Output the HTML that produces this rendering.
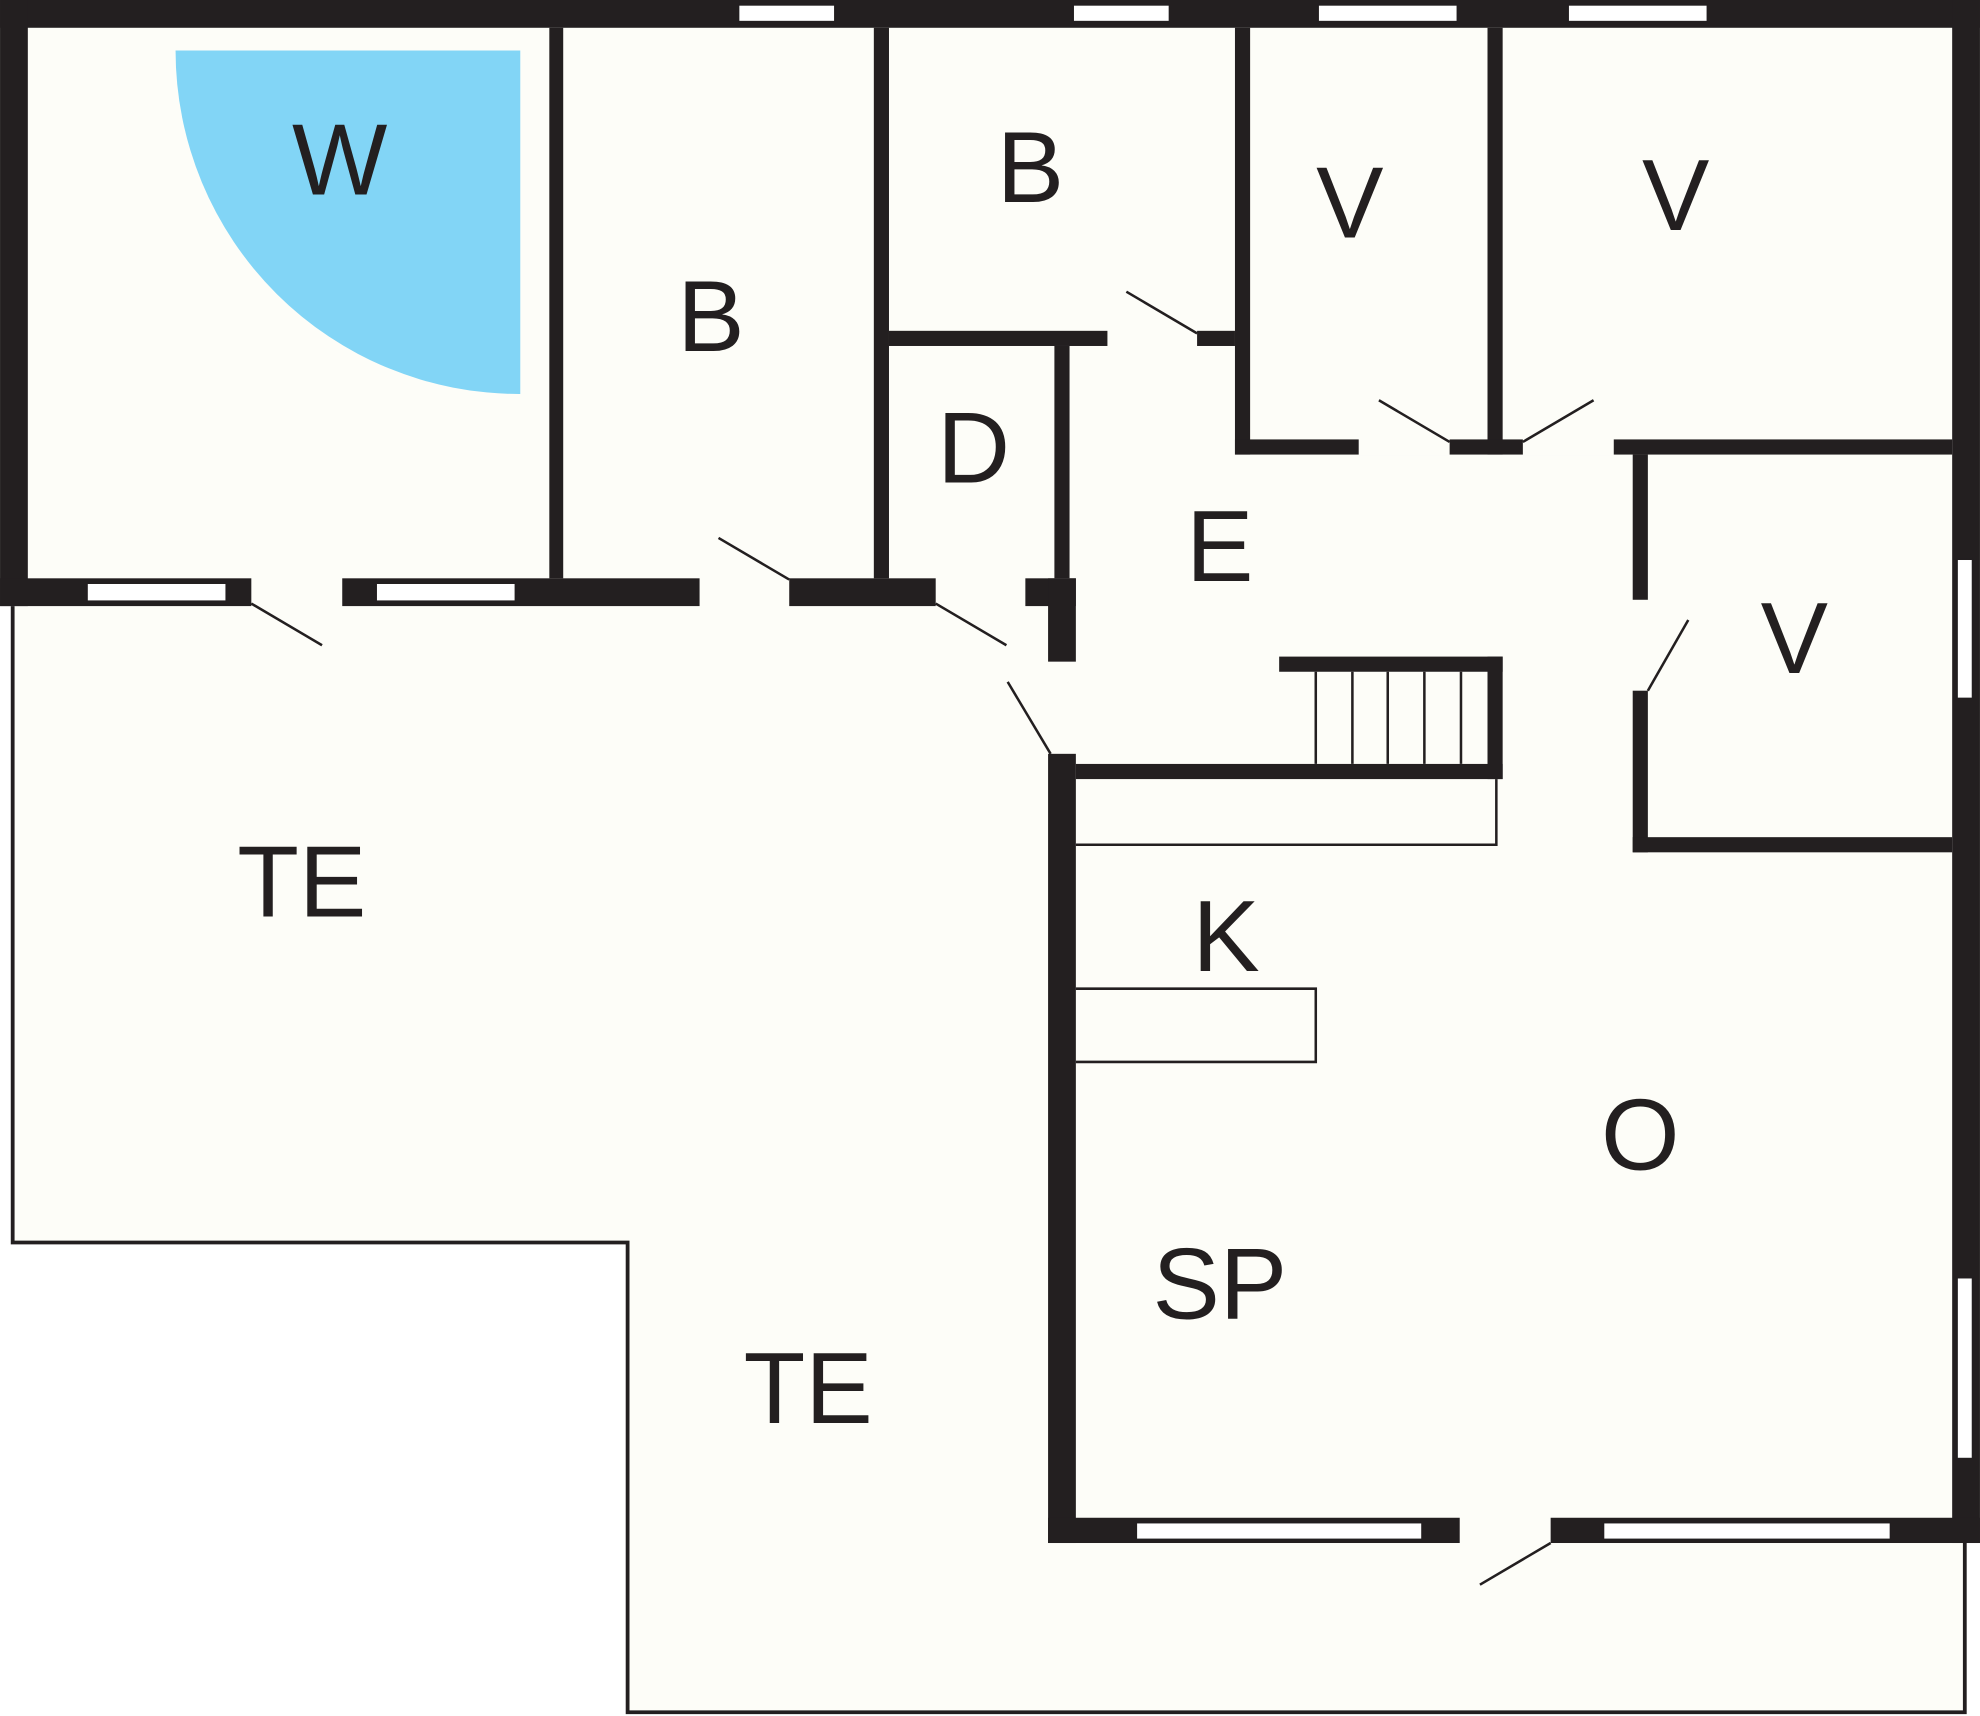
<!DOCTYPE html>
<html><head><meta charset="utf-8"><style>html,body{margin:0;padding:0;background:#fff}svg{display:block}</style></head>
<body>
<svg width="1980" height="1716" viewBox="0 0 1568 1359" xmlns="http://www.w3.org/2000/svg">
<g fill="#fdfdf8">
<rect x="0" y="0" width="1568" height="480"/>
<rect x="830" y="460" width="738" height="762"/>
<polygon points="10,478 10,984 497,984 497,1356 1556,1356 1556,1220 830,1220 830,478"/>
</g>
<polyline points="10,480 10,984 497,984 497,1356 1556,1356 1556,1222" fill="none" stroke="#231f20" stroke-width="3"/>
<path d="M412,40 L139,40 A272,272 0 0 0 412,312 Z" fill="#82d5f6"/>
<g fill="#231f20">
<rect x="0" y="0" width="1568" height="22"/>
<rect x="0" y="0" width="22" height="480"/>
<rect x="1546" y="0" width="22" height="1222"/>
<rect x="0" y="458" width="852" height="22"/>
<rect x="435" y="22" width="11" height="436"/>
<rect x="692" y="22" width="12" height="436"/>
<rect x="704" y="262" width="274" height="12"/>
<rect x="978" y="22" width="12" height="338"/>
<rect x="1178" y="22" width="12" height="338"/>
<rect x="978" y="348" width="568" height="12"/>
<rect x="835" y="274" width="12" height="184"/>
<rect x="830" y="458" width="22" height="764"/>
<rect x="852" y="605" width="338" height="12"/>
<rect x="1013" y="520" width="177" height="12"/>
<rect x="1178" y="520" width="12" height="97"/>
<rect x="1293" y="360" width="12" height="315"/>
<rect x="1293" y="663" width="253" height="12"/>
<rect x="830" y="1202" width="738" height="20"/>
</g>
<g fill="#fff" stroke="#231f20" stroke-width="1">
<rect x="585" y="4" width="76" height="13"/>
<rect x="850" y="4" width="76" height="13"/>
<rect x="1044" y="4" width="110" height="13"/>
<rect x="1242" y="4" width="110" height="13"/>
<rect x="69" y="462" width="110" height="14"/>
<rect x="298" y="462" width="110" height="14"/>
<rect x="1550" y="443" width="12" height="110"/>
<rect x="1550" y="1012" width="12" height="143"/>
<rect x="900" y="1206" width="226" height="13"/>
<rect x="1270" y="1206" width="227" height="13"/>
</g>
<g fill="#fdfdf8">
<rect x="199" y="457" width="72" height="24"/>
<rect x="554" y="457" width="71" height="24"/>
<rect x="741" y="457" width="71" height="24"/>
<rect x="829" y="524" width="24" height="73"/>
<rect x="877" y="261" width="71" height="14"/>
<rect x="1076" y="347" width="72" height="14"/>
<rect x="1206" y="347" width="72" height="14"/>
<rect x="1292" y="475" width="14" height="72"/>
<rect x="1156" y="1201" width="72" height="22"/>
</g>
<g stroke="#231f20" stroke-width="2" fill="none">
<line x1="1042" y1="532" x2="1042" y2="605"/>
<line x1="1071" y1="532" x2="1071" y2="605"/>
<line x1="1099" y1="532" x2="1099" y2="605"/>
<line x1="1128" y1="532" x2="1128" y2="605"/>
<line x1="1157" y1="532" x2="1157" y2="605"/>
<polyline points="852,669 1185,669 1185,617"/>
<polyline points="852,783 1042,783 1042,841 852,841"/>
<line x1="199" y1="478" x2="255" y2="511"/>
<line x1="569" y1="426" x2="625" y2="459"/>
<line x1="741" y1="478" x2="797" y2="511"/>
<line x1="798" y1="540" x2="832" y2="597"/>
<line x1="892" y1="231" x2="948" y2="264"/>
<line x1="1092" y1="317" x2="1148" y2="350"/>
<line x1="1206" y1="350" x2="1262" y2="317"/>
<line x1="1305" y1="547" x2="1337" y2="491"/>
<line x1="1228" y1="1222" x2="1172" y2="1255"/>
</g>
<g font-family="Liberation Sans, sans-serif" font-size="80" fill="#231f20" text-anchor="middle">
<text x="269" y="154">W</text>
<text x="563" y="278">B</text>
<text x="816" y="160">B</text>
<text x="1069" y="188">V</text>
<text x="1327" y="182">V</text>
<text x="771" y="382">D</text>
<text x="966" y="460">E</text>
<text x="1421" y="533">V</text>
<text x="239" y="726">TE</text>
<text x="971" y="769">K</text>
<text x="1299" y="926">O</text>
<text x="966" y="1044">SP</text>
<text x="640" y="1127">TE</text>
</g>
</svg>
</body></html>
